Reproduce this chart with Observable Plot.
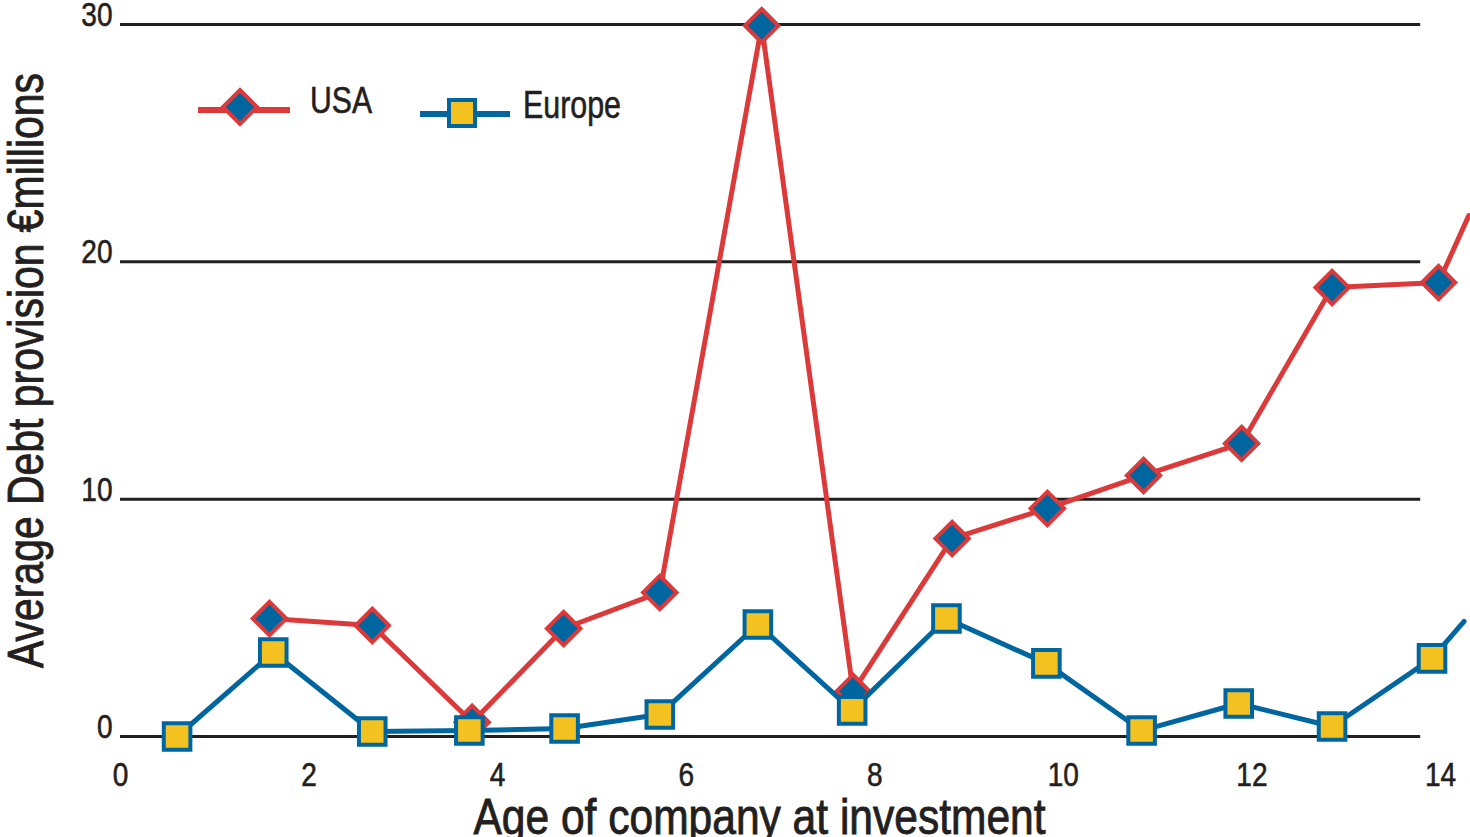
<!DOCTYPE html>
<html>
<head>
<meta charset="utf-8">
<script src="https://cdn.jsdelivr.net/npm/d3@7"></script>
<script src="https://cdn.jsdelivr.net/npm/@observablehq/plot@0.6"></script>
<style>
html, body { margin: 0; padding: 0; background: #ffffff; }
#wrap { position: relative; width: 1470px; height: 837px; overflow: hidden; }
#legend { position: absolute; left: 0; top: 0; pointer-events: none; }
</style>
</head>
<body>
<div id="wrap"></div>
<script>
// ---- data ----
const usaAge  = [1.58, 2.67, 3.73, 4.70, 5.72, 6.80, 7.77, 8.82, 9.83, 10.85, 11.89, 12.85, 13.98, 14.30];
const usaDebt = [4.97, 4.68, 0.60, 4.55, 6.07, 29.95, 1.90, 8.34, 9.61, 11.00, 12.35, 18.92, 19.13, 21.95];
const europeAge  = [0.60, 1.62, 2.67, 3.70, 4.71, 5.72, 6.76, 7.76, 8.76, 9.82, 10.83, 11.86, 12.85, 13.91, 14.25];
const europeDebt = [0.00, 3.54, 0.21, 0.25, 0.34, 0.93, 4.72, 1.10, 4.97, 3.08, 0.25, 1.39, 0.42, 3.29, 4.85];
const xTicks = [0, 2, 4, 6, 8, 10, 12, 14];
const yTicks = [0, 10, 20, 30];
const gridEnd = 13.79;
const seriesNames = ["USA", "Europe"];
const xTitle = "Age of company at investment";
const yTitle = "Average Debt provision \u20acmillions";

// ---- styles ----
const RED = "#dc3a3a", BLUE = "#0066a0", YELLOW = "#f3c221", INK = "#231f20";
const FONT = "'Liberation Sans', Arial, sans-serif";

const usa = usaAge.map((a, i) => ({age: a, debt: usaDebt[i], marker: i < usaAge.length - 1}));
const europe = europeAge.map((a, i) => ({age: a, debt: europeDebt[i], marker: i < europeAge.length - 1}));

const chart = Plot.plot({
  width: 1470, height: 837,
  marginLeft: 120, marginRight: 30, marginTop: 24, marginBottom: 101,
  style: {fontFamily: FONT, background: "#ffffff", color: INK, overflow: "visible"},
  x: {domain: [0, 14]},
  y: {domain: [0, 30]},
  marks: [
    Plot.ruleY(yTicks, {x1: 0, x2: gridEnd, stroke: INK, strokeWidth: 3}),
    Plot.axisY(yTicks, {tickSize: 0, tickPadding: 8, dy: -9, fontSize: 32, label: null, fill: INK}),
    Plot.axisX(xTicks, {tickSize: 0, tickPadding: 26, fontSize: 32, label: null, fill: INK}),
    Plot.line(usa, {x: "age", y: "debt", stroke: RED, strokeWidth: 5}),
    Plot.dot(usa.filter(d => d.marker), {x: "age", y: "debt", symbol: "diamond2", r: 15, fill: BLUE, stroke: RED, strokeWidth: 4}),
    Plot.line(europe, {x: "age", y: "debt", stroke: BLUE, strokeWidth: 5}),
    Plot.dot(europe.filter(d => d.marker), {x: "age", y: "debt", symbol: "square", r: 15, fill: YELLOW, stroke: BLUE, strokeWidth: 4}),
    Plot.text([yTitle], {text: d => d, frameAnchor: "left", textAnchor: "middle", lineAnchor: "bottom", rotate: -90, dx: -78, dy: -10, fontSize: 50, fill: INK}),
    Plot.text([xTitle], {text: d => d, frameAnchor: "bottom", textAnchor: "middle", lineAnchor: "bottom", dx: -21, dy: 97, fontSize: 50, fill: INK})
  ]
});

const wrap = document.getElementById("wrap");
wrap.append(chart);

// condensed, slightly heavier look
const tickStrings = new Set([...xTicks, ...yTicks].map(String));
chart.querySelectorAll("text").forEach(t => {
  const s = t.textContent;
  if (s === yTitle) {
    t.setAttribute("textLength", 595);
    t.setAttribute("lengthAdjust", "spacingAndGlyphs");
    t.setAttribute("stroke", INK);
    t.setAttribute("stroke-width", 0.9);
  } else if (s === xTitle) {
    t.setAttribute("textLength", 572);
    t.setAttribute("lengthAdjust", "spacingAndGlyphs");
    t.setAttribute("stroke", INK);
    t.setAttribute("stroke-width", 0.9);
  } else if (tickStrings.has(s)) {
    t.setAttribute("font-size", 33);
    const w = t.getComputedTextLength();
    t.setAttribute("textLength", (w * 0.85).toFixed(1));
    t.setAttribute("lengthAdjust", "spacingAndGlyphs");
    t.setAttribute("stroke", INK);
    t.setAttribute("stroke-width", 0.6);
  }
});

// legend
const lg = d3.create("svg").attr("id", "legend").attr("width", 1470).attr("height", 837)
  .style("font-family", FONT);
// USA
lg.append("line").attr("x1", 198).attr("x2", 290).attr("y1", 110).attr("y2", 110).attr("stroke", RED).attr("stroke-width", 6);
lg.append("polygon").attr("points", "240,90 257,107 240,124 223,107").attr("fill", BLUE).attr("stroke", RED).attr("stroke-width", 4);
lg.append("text").attr("x", 310).attr("y", 113).attr("font-size", 37).attr("fill", INK)
  .attr("stroke", INK).attr("stroke-width", 0.6)
  .attr("textLength", 62).attr("lengthAdjust", "spacingAndGlyphs").text(seriesNames[0]);
// Europe
lg.append("line").attr("x1", 420).attr("x2", 510).attr("y1", 114).attr("y2", 114).attr("stroke", BLUE).attr("stroke-width", 6);
lg.append("rect").attr("x", 449).attr("y", 100).attr("width", 26).attr("height", 26).attr("fill", YELLOW).attr("stroke", BLUE).attr("stroke-width", 4);
lg.append("text").attr("x", 523).attr("y", 118).attr("font-size", 38).attr("fill", INK)
  .attr("stroke", INK).attr("stroke-width", 0.6)
  .attr("textLength", 98).attr("lengthAdjust", "spacingAndGlyphs").text(seriesNames[1]);
wrap.append(lg.node());
</script>
</body>
</html>
